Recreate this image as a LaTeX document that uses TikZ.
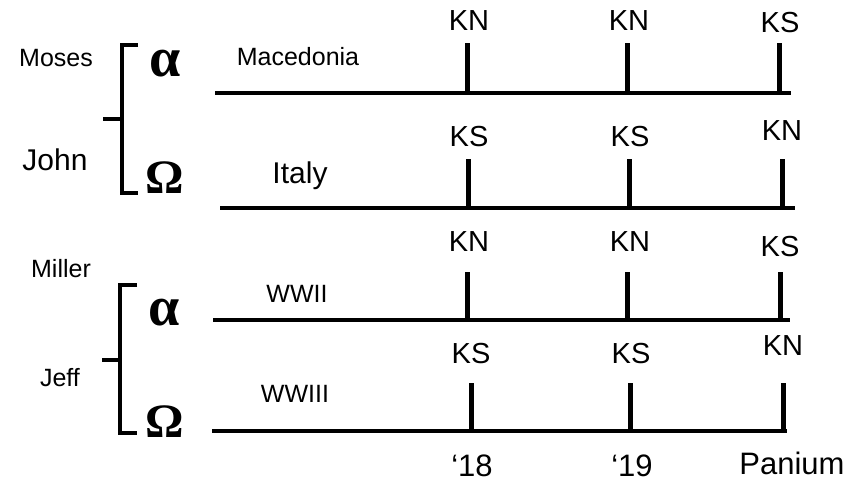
\documentclass[tikz,border=0pt]{standalone}
\usepackage{fontspec}
\setmainfont{Liberation Sans}
\newfontfamily\greekface{Liberation Serif}
\begin{document}
\begin{tikzpicture}[x=1pt,y=-1pt,
  axisline/.style={line width=3.6pt},
  tickmark/.style={line width=5pt},
  bracket/.style={line width=4pt, line join=miter},
  marklabel/.style={inner sep=0pt, font=\fontsize{29}{33}\selectfont},
  axislabel/.style={inner sep=0pt, font=\fontsize{31}{35}\selectfont},
  smallname/.style={inner sep=0pt, font=\fontsize{25}{29}\selectfont},
  bigname/.style={inner sep=0pt, font=\fontsize{30}{34}\selectfont},
  alphaglyph/.style={inner sep=0pt, font=\fontsize{56}{60}\greekface\bfseries},
  omegaglyph/.style={inner sep=0pt, font=\fontsize{48}{52}\greekface\bfseries}]
\useasboundingbox (0,0) rectangle (847,482);

% ---- group 1 : Moses / John ----
\node[smallname] (moses) at (56,58) {Moses};
\node[bigname]   (john)  at (55,160) {John};
\coordinate (b1t) at (138,45);
\coordinate (b1tc) at (122,45);
\coordinate (b1bc) at (122,193);
\coordinate (b1b) at (138,193);
\coordinate (b1m) at (122,119);
\coordinate (b1tip) at (103,119);
\draw[bracket] (b1t) -- (b1tc) -- (b1bc) -- (b1b);
\draw[bracket] (b1m) -- (b1tip);
\node[alphaglyph] (alpha1) at (165,64) {α};
\node[omegaglyph] (omega1) at (165,178) {Ω};

% row 1
\node[smallname] (ev1) at (298,57) {Macedonia};
\coordinate (r1s) at (215,93);
\coordinate (r1e) at (791,93);
\draw[axisline] (r1s) -- (r1e);
\coordinate (r1a) at (467,93); \coordinate (r1at) at (467,43);
\coordinate (r1b) at (627,93); \coordinate (r1bt) at (627,43);
\coordinate (r1c) at (779,93); \coordinate (r1ct) at (779,43);
\draw[tickmark] (r1a) -- (r1at);
\draw[tickmark] (r1b) -- (r1bt);
\draw[tickmark] (r1c) -- (r1ct);
\node[marklabel] (r1al) at (469,21) {KN};
\node[marklabel] (r1bl) at (629,21) {KN};
\node[marklabel] (r1cl) at (780,23) {KS};

% row 2
\node[bigname] (ev2) at (300,176) {Italy};
\coordinate (r2s) at (220,208);
\coordinate (r2e) at (795,208);
\draw[axisline] (r2s) -- (r2e);
\coordinate (r2a) at (468,208); \coordinate (r2at) at (468,159);
\coordinate (r2b) at (629,208); \coordinate (r2bt) at (629,159);
\coordinate (r2c) at (782,208); \coordinate (r2ct) at (782,159);
\draw[tickmark] (r2a) -- (r2at);
\draw[tickmark] (r2b) -- (r2bt);
\draw[tickmark] (r2c) -- (r2ct);
\node[marklabel] (r2al) at (469,137) {KS};
\node[marklabel] (r2bl) at (630,137) {KS};
\node[marklabel] (r2cl) at (782,131) {KN};

% ---- group 2 : Miller / Jeff ----
\node[smallname] (miller) at (61,269) {Miller};
\node[smallname] (jeff)   at (60,378) {Jeff};
\coordinate (b2t) at (137,285);
\coordinate (b2tc) at (120,285);
\coordinate (b2bc) at (120,433);
\coordinate (b2b) at (137,433);
\coordinate (b2m) at (120,360);
\coordinate (b2tip) at (102,360);
\draw[bracket] (b2t) -- (b2tc) -- (b2bc) -- (b2b);
\draw[bracket] (b2m) -- (b2tip);
\node[alphaglyph] (alpha2) at (164,313) {α};
\node[omegaglyph] (omega2) at (165,422) {Ω};

% row 3
\node[smallname] (ev3) at (297,294) {WWII};
\coordinate (r3s) at (213,320);
\coordinate (r3e) at (790,320);
\draw[axisline] (r3s) -- (r3e);
\coordinate (r3a) at (467,320); \coordinate (r3at) at (467,272);
\coordinate (r3b) at (627,320); \coordinate (r3bt) at (627,272);
\coordinate (r3c) at (780,320); \coordinate (r3ct) at (780,272);
\draw[tickmark] (r3a) -- (r3at);
\draw[tickmark] (r3b) -- (r3bt);
\draw[tickmark] (r3c) -- (r3ct);
\node[marklabel] (r3al) at (469,242) {KN};
\node[marklabel] (r3bl) at (630,242) {KN};
\node[marklabel] (r3cl) at (780,247) {KS};

% row 4
\node[smallname] (ev4) at (295,394) {WWIII};
\coordinate (r4s) at (212,431);
\coordinate (r4e) at (787,431);
\draw[axisline] (r4s) -- (r4e);
\coordinate (r4a) at (471,431); \coordinate (r4at) at (471,383);
\coordinate (r4b) at (630,431); \coordinate (r4bt) at (630,383);
\coordinate (r4c) at (783,431); \coordinate (r4ct) at (783,383);
\draw[tickmark] (r4a) -- (r4at);
\draw[tickmark] (r4b) -- (r4bt);
\draw[tickmark] (r4c) -- (r4ct);
\node[marklabel] (r4al) at (471,354) {KS};
\node[marklabel] (r4bl) at (631,354) {KS};
\node[marklabel] (r4cl) at (783,346) {KN};

% axis labels
\node[axislabel] (y18) at (472,466) {‘18};
\node[axislabel] (y19) at (632,466) {‘19};
\node[axislabel] (pan) at (792,463) {Panium};
\end{tikzpicture}
\end{document}
